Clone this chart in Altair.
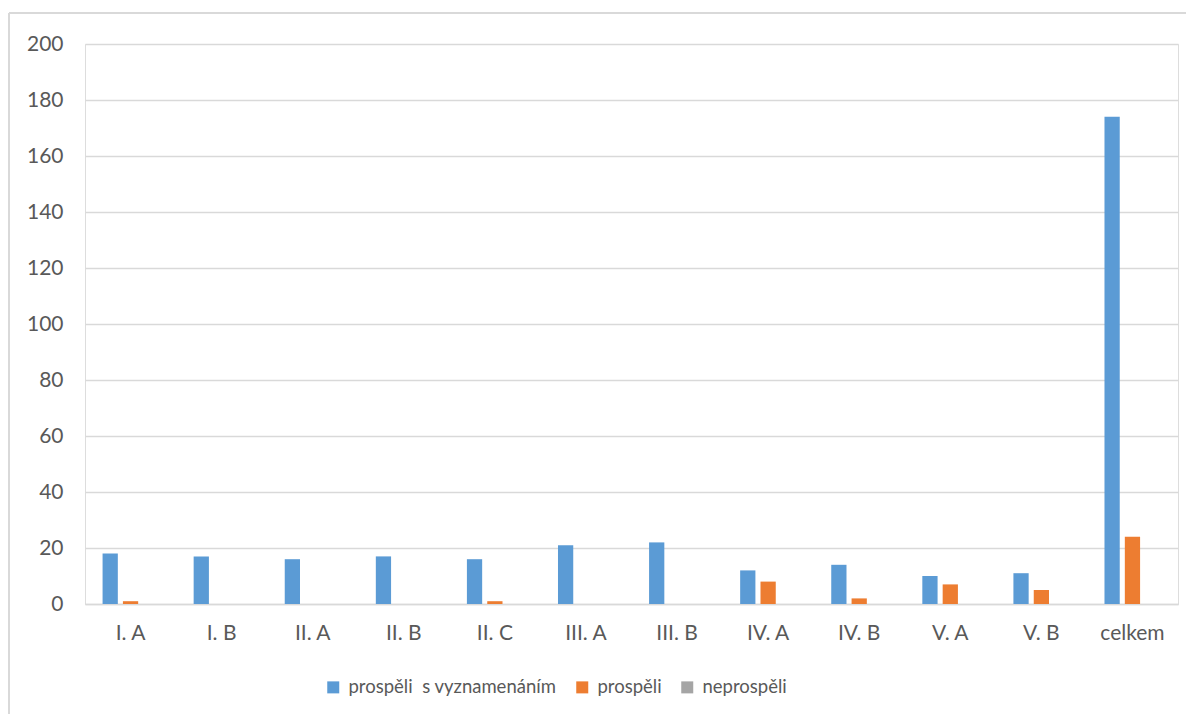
import altair as alt
import pandas as pd

categories = ["I. A", "I. B", "II. A", "II. B", "II. C", "III. A", "III. B",
              "IV. A", "IV. B", "V. A", "V. B", "celkem"]
series = ["prospěli\u00a0\u00a0s vyznamenáním", "prospěli", "neprospěli"]
colors = ["#5B9BD5", "#ED7D31", "#A5A5A5"]
s_vyznamenanim = [18, 17, 16, 17, 16, 21, 22, 12, 14, 10, 11, 174]
prospeli = [1, 0, 0, 0, 1, 0, 0, 8, 2, 7, 5, 24]
neprospeli = [0, 0, 0, 0, 0, 0, 0, 0, 0, 0, 0, 0]
y_ticks = list(range(0, 201, 20))

rows = []
for vals, s in zip([s_vyznamenanim, prospeli, neprospeli], series):
    for c, v in zip(categories, vals):
        rows.append({"trida": c, "serie": s, "pocet": v})
df = pd.DataFrame(rows)

FONT = "Lato"
TXT = "#595959"
GRID = "#D9D9D9"
W, H = 1093, 560

bars = alt.Chart(df).mark_bar().encode(
    x=alt.X("trida:N", sort=categories, title=None,
            scale=alt.Scale(paddingInner=0.33, paddingOuter=0.165),
            axis=alt.Axis(labelAngle=0, labelFont=FONT, labelFontSize=21,
                          labelColor=TXT, ticks=False, domain=True,
                          domainColor=GRID, domainWidth=1.5, labelPadding=18,
                          grid=False)),
    xOffset=alt.XOffset("serie:N", sort=series,
                        scale=alt.Scale(paddingInner=0.25, paddingOuter=0.125)),
    y=alt.Y("pocet:Q", title=None,
            scale=alt.Scale(domain=[0, 200], nice=False),
            axis=alt.Axis(values=y_ticks, labelFont=FONT, labelFontSize=21,
                          labelColor=TXT, ticks=False, domain=False,
                          gridColor=GRID, gridWidth=1.5, labelPadding=22)),
    color=alt.Color("serie:N", sort=series,
                    scale=alt.Scale(domain=series, range=colors),
                    legend=alt.Legend(title=None, orient="none", direction="horizontal",
                                      legendX=239, legendY=634,
                                      symbolType="square", symbolSize=144,
                                      symbolStrokeWidth=0, symbolOffset=0,
                                      labelFont=FONT, labelFontSize=18.5,
                                      labelColor=TXT, columnPadding=16,
                                      labelOffset=6, labelLimit=0)),
)

frame = alt.Data(values=[{}])
top_rule = alt.Chart(frame).mark_rule(color=GRID, strokeWidth=2).encode(
    x=alt.value(-76), x2=alt.value(W + 20), y=alt.value(-31))
left_rule = alt.Chart(frame).mark_rule(color=GRID, strokeWidth=2).encode(
    x=alt.value(-76), y=alt.value(-31), y2=alt.value(H + 120))

chart = alt.layer(top_rule, left_rule, bars).properties(
    width=W, height=H,
    autosize=alt.AutoSizeParams(type="none"),
    padding={"left": 77, "top": 36, "right": 8, "bottom": 110},
).configure_view(stroke=None).configure(background="white")

chart.save("out.html", embed_options={"renderer": "svg", "actions": False})
